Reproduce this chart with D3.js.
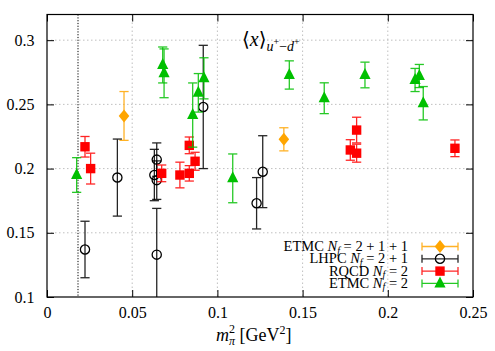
<!DOCTYPE html>
<html>
<head>
<meta charset="utf-8">
<script src="https://cdn.jsdelivr.net/npm/d3@7"></script>
<style>
  body { margin: 0; background: #fff; }
  svg { display: block; }
</style>
</head>
<body>
<script>
// ---- data ----
let xTicks = [0, 0.05, 0.1, 0.15, 0.2, 0.25];
let yTicks = [0.1, 0.15, 0.2, 0.25, 0.3];
let physPoint = 0.0182;   // dotted vertical line

// ETMC Nf=2+1+1 (orange diamonds)
let etmc4X = [0.0452, 0.139];
let etmc4Y = [0.241, 0.2228];
let etmc4E = [0.019, 0.009];

// LHPC Nf=2+1 (open circles)
let lhpcX = [0.0223, 0.0413, 0.0644, 0.0630, 0.0644, 0.0644, 0.0917, 0.123, 0.1266];
let lhpcY = [0.137, 0.193, 0.207, 0.195, 0.191, 0.133, 0.248, 0.173, 0.1976];
let lhpcE = [0.022, 0.030, 0.013, 0.020, 0.015, 0.036, 0.048, 0.020, 0.028];

// RQCD Nf=2 (red squares)
let rqcdX = [0.0223, 0.0256, 0.0673, 0.078, 0.0835, 0.0835, 0.0869, 0.1817, 0.178, 0.1817, 0.2394];
let rqcdY = [0.217, 0.2, 0.1963, 0.195, 0.1963, 0.2181, 0.2057, 0.230, 0.2145, 0.212, 0.2158];
let rqcdE = [0.008, 0.012, 0.0065, 0.010, 0.006, 0.0065, 0.007, 0.010, 0.008, 0.007, 0.0065];

// ETMC Nf=2 (green triangles)
let etmc2X = [0.0174, 0.0679, 0.0687, 0.0855, 0.0888, 0.0921, 0.109, 0.1422, 0.1627, 0.1866, 0.216, 0.2185, 0.2208];
let etmc2Y = [0.195, 0.2807, 0.2742, 0.2417, 0.259, 0.2703, 0.1924, 0.2729, 0.2548, 0.2729, 0.269, 0.2721, 0.2509];
let etmc2E = [0.0135, 0.014, 0.019, 0.025, 0.015, 0.016, 0.019, 0.011, 0.012, 0.010, 0.009, 0.009, 0.013];

let seriesNames = ['ETMC|= 2 + 1 + 1', 'LHPC|= 2 + 1', 'RQCD|= 2', 'ETMC|= 2'];
let seriesColors = ['#ffa500', '#000000', '#ff0000', '#00c000'];
let seriesShapes = ['diamond', 'circle', 'square', 'triangle'];

let serif = "'Liberation Serif', 'Times New Roman', Times, 'DejaVu Serif', serif";

// ---- canvas ----
let width = 495;
let height = 351;
let svg = d3.select('body').append('svg')
   .attr('width', width)
   .attr('height', height);

let x = d3.scaleLinear().domain([0, 0.25]).range([47, 473]);
let y = d3.scaleLinear().domain([0.1, 0.32]).range([297, 14.5]);

let plot = svg.append('g');

// grid
plot.selectAll('.gx')
   .data(xTicks.slice(1, -1))
   .enter().append('line')
   .attr('x1', d => x(d)).attr('x2', d => x(d))
   .attr('y1', y(0.32)).attr('y2', y(0.1))
   .attr('stroke', '#b0b0b0').attr('stroke-width', 0.8)
   .attr('stroke-dasharray', '1.5,2.5');
plot.selectAll('.gy')
   .data(yTicks.slice(1))
   .enter().append('line')
   .attr('x1', x(0)).attr('x2', x(0.25))
   .attr('y1', d => y(d)).attr('y2', d => y(d))
   .attr('stroke', '#b0b0b0').attr('stroke-width', 0.8)
   .attr('stroke-dasharray', '1.5,2.5');

// physical point line
plot.append('line')
   .attr('x1', x(physPoint)).attr('x2', x(physPoint))
   .attr('y1', y(0.32)).attr('y2', y(0.1))
   .attr('stroke', '#000').attr('stroke-width', 1)
   .attr('stroke-dasharray', '1.2,1.6');

// axes (ticks inward on all four sides)
let tickLen = 7;
svg.append('g').attr('transform', `translate(0,${y(0.1)})`)
   .call(d3.axisBottom(x).tickValues(xTicks).tickSize(-tickLen).tickPadding(10)
      .tickFormat(d => d === 0 ? '0' : d3.format('')(d)));
svg.append('g').attr('transform', `translate(0,${y(0.32)})`)
   .call(d3.axisTop(x).tickValues(xTicks).tickSize(-tickLen).tickFormat(''));
svg.append('g').attr('transform', `translate(${x(0)},0)`)
   .call(d3.axisLeft(y).tickValues(yTicks).tickSize(-tickLen).tickPadding(12.5)
      .tickFormat(d => d3.format('')(+d.toFixed(2))));
svg.append('g').attr('transform', `translate(${x(0.25)},0)`)
   .call(d3.axisRight(y).tickValues(yTicks).tickSize(-tickLen).tickFormat(''));

svg.selectAll('.domain').remove();
svg.selectAll('.tick line').attr('stroke', '#000').attr('stroke-width', 1);
svg.selectAll('.tick text')
   .attr('font-size', 16).attr('fill', '#000');

// border
svg.append('rect')
   .attr('x', x(0)).attr('y', y(0.32))
   .attr('width', x(0.25) - x(0)).attr('height', y(0.1) - y(0.32))
   .attr('fill', 'none').attr('stroke', '#000').attr('stroke-width', 1.2);

// ---- markers ----
let symbol = (g, shape, color) => {
   if (shape === 'circle') {
      g.append('circle').attr('r', 4.6)
         .attr('fill', 'none').attr('stroke', color).attr('stroke-width', 1.3);
   } else if (shape === 'square') {
      g.append('rect').attr('x', -4.7).attr('y', -4.7).attr('width', 9.4).attr('height', 9.4)
         .attr('fill', color);
   } else if (shape === 'diamond') {
      g.append('path').attr('d', 'M0,-6.5L5.3,0L0,6.5L-5.3,0Z').attr('fill', color);
   } else {
      g.append('path').attr('d', 'M0,-7L5.6,4L-5.6,4Z').attr('fill', color);
   }
};

let clipId = 'plotclip';
svg.append('clipPath').attr('id', clipId).append('rect')
   .attr('x', x(0)).attr('y', y(0.32))
   .attr('width', x(0.25) - x(0)).attr('height', y(0.1) - y(0.32));

let drawSeries = (xs, ys, es, idx) => {
   let color = seriesColors[idx];
   let g = svg.append('g').attr('clip-path', `url(#${clipId})`);
   let pts = xs.map((d, i) => ({ x: d, y: ys[i], e: es[i] }));
   let cap = 4.6;
   pts.forEach(p => {
      let cx = x(p.x);
      let bar = g.append('g').attr('stroke', color).attr('stroke-width', 1.3).attr('opacity', 0.85);
      bar.append('line').attr('x1', cx).attr('x2', cx).attr('y1', y(p.y - p.e)).attr('y2', y(p.y + p.e));
      bar.append('line').attr('x1', cx - cap).attr('x2', cx + cap).attr('y1', y(p.y + p.e)).attr('y2', y(p.y + p.e));
      bar.append('line').attr('x1', cx - cap).attr('x2', cx + cap).attr('y1', y(p.y - p.e)).attr('y2', y(p.y - p.e));
      let m = g.append('g').attr('transform', `translate(${cx},${y(p.y)})`);
      symbol(m, seriesShapes[idx], color);
   });
};

drawSeries(etmc4X, etmc4Y, etmc4E, 0);
drawSeries(lhpcX, lhpcY, lhpcE, 1);
drawSeries(rqcdX, rqcdY, rqcdE, 2);
drawSeries(etmc2X, etmc2Y, etmc2E, 3);

// ---- legend ----
let legendTop = 246.5;
let rowH = 12.3;
seriesNames.forEach((name, i) => {
   let ly = legendTop + i * rowH;
   let parts = name.split('|');
   let t = svg.append('text')
      .attr('x', 408).attr('y', ly + 4.5)
      .attr('text-anchor', 'end')
      .attr('font-size', 14.5);
   t.append('tspan').text(parts[0] + ' ');
   t.append('tspan').attr('font-style', 'italic').text('N');
   t.append('tspan').attr('font-style', 'italic').attr('font-size', 10).attr('dy', 2.5).text('f');
   t.append('tspan').attr('dy', -2.5).text(' ' + parts[1]);

   let color = seriesColors[i];
   let lg = svg.append('g').attr('stroke', color).attr('stroke-width', 1.3).attr('opacity', 0.85);
   lg.append('line').attr('x1', 422).attr('x2', 458).attr('y1', ly).attr('y2', ly);
   lg.append('line').attr('x1', 422).attr('x2', 422).attr('y1', ly - 4).attr('y2', ly + 4);
   lg.append('line').attr('x1', 458).attr('x2', 458).attr('y1', ly - 4).attr('y2', ly + 4);
   let m = svg.append('g').attr('transform', `translate(440,${ly})`);
   symbol(m, seriesShapes[i], color);
});

// ---- title and axis label ----
let title = svg.append('text').attr('x', 242).attr('y', 46).attr('font-size', 20);
title.append('tspan').text('⟨');
title.append('tspan').attr('font-style', 'italic').text('x');
title.append('tspan').text('⟩');
title.append('tspan').attr('font-style', 'italic').attr('font-size', 14).attr('dy', 5).text('u');
title.append('tspan').attr('font-size', 10).attr('dy', -6).text('+');
title.append('tspan').attr('font-size', 14).attr('dy', 6).text('−');
title.append('tspan').attr('font-style', 'italic').attr('font-size', 14).text('d');
title.append('tspan').attr('font-size', 10).attr('dy', -6).text('+');

let xl = svg.append('text').attr('x', 216).attr('y', 341).attr('font-size', 18);
xl.append('tspan').attr('font-style', 'italic').text('m');
xl.append('tspan').attr('font-size', 12).attr('dy', -8).text('2');
xl.append('tspan').attr('font-style', 'italic').attr('font-size', 12).attr('dx', -6).attr('dy', 12).text('π');
xl.append('tspan').attr('dy', -4).text('  [GeV');
xl.append('tspan').attr('font-size', 12).attr('dy', -7).text('2');
xl.append('tspan').attr('dy', 7).text(']');

// serif everywhere, like the LaTeX labels of the original
svg.selectAll('text').style('font-family', serif).style('fill', '#000');
</script>
</body>
</html>
